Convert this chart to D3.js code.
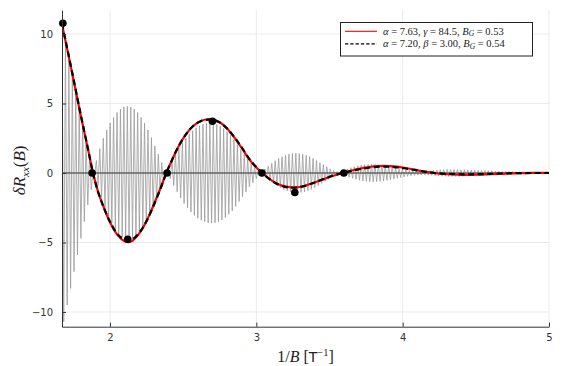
<!DOCTYPE html>
<html>
<head>
<meta charset="utf-8">
<script src="https://cdn.jsdelivr.net/npm/d3@7"></script>
<style>
  html, body { margin: 0; padding: 0; background: #fff; }
  svg { display: block; }
  .tick text { font-family: "DejaVu Sans", sans-serif; font-size: 10px; fill: #333; }
</style>
</head>
<body>
<svg id="chart" width="562" height="366"></svg>
<script>
// Axis ticks
const xTicks = [2, 3, 4, 5];
const yTicks = [-10, -5, 0, 5, 10];
const xDomain = [1.672, 5];
const yDomain = [-11.06, 11.73];

// Fit with alpha = 7.63, gamma = 84.5, B_G = 0.53 (red, solid)
const fitGammaX = [1.672, 1.70, 1.75, 1.80, 1.85, 1.884, 1.92, 1.96, 2.00, 2.05, 2.10, 2.125, 2.15, 2.20, 2.25, 2.30, 2.35, 2.385,
  2.42, 2.47, 2.52, 2.57, 2.62, 2.67, 2.70, 2.75, 2.80, 2.85, 2.90, 2.95, 3.00, 3.04, 3.08, 3.13, 3.18, 3.23, 3.27, 3.32, 3.38,
  3.45, 3.52, 3.59, 3.66, 3.73, 3.80, 3.87, 3.94, 4.01, 4.08, 4.15, 4.22, 4.30, 4.40, 4.50, 4.60, 4.70, 4.80, 4.90, 5.00];
const fitGammaY = [10.7, 9.3, 6.75, 4.15, 1.7, 0, -1.4, -2.55, -3.55, -4.45, -4.92, -4.98, -4.9, -4.35, -3.45, -2.25, -0.95, 0,
  0.85, 1.95, 2.8, 3.4, 3.75, 3.87, 3.86, 3.65, 3.2, 2.55, 1.8, 1.0, 0.4, 0, -0.35, -0.7, -0.92, -1.02, -1.03, -0.95, -0.75,
  -0.48, -0.22, 0.0, 0.2, 0.37, 0.48, 0.52, 0.48, 0.38, 0.24, 0.1, -0.02, -0.09, -0.13, -0.12, -0.08, -0.04, -0.01, 0.01, 0.01];

// Fit with alpha = 7.20, beta = 3.00, B_G = 0.54 (black, dashed)
const fitBetaY = [10.75, 9.35, 6.8, 4.2, 1.72, 0, -1.4, -2.55, -3.5, -4.38, -4.82, -4.87, -4.8, -4.3, -3.45, -2.3, -1.0, 0,
  0.85, 1.95, 2.8, 3.4, 3.73, 3.84, 3.83, 3.63, 3.2, 2.58, 1.85, 1.05, 0.42, 0.02, -0.36, -0.72, -0.95, -1.05, -1.05, -0.96, -0.75,
  -0.47, -0.2, 0.0, 0.17, 0.32, 0.42, 0.46, 0.43, 0.34, 0.22, 0.1, 0.0, -0.06, -0.09, -0.09, -0.06, -0.03, -0.01, 0.0, 0.0];

// Extrema / nodes of the measured envelope
const nodeX = [1.678, 1.878, 2.121, 2.39, 2.700, 3.038, 3.263, 3.598];
const nodeY = [10.78, 0, -4.77, 0, 3.72, 0, -1.40, 0];

// Raw oscillation: one amplitude per cycle, starting at traceStart, cycle length traceStep
const traceStart = 1.672;
const traceStep = 0.0235;
const tracePeaks = [
  10.7, 9.5, 8.3, 7.1, 5.9, 4.7, 3.5, 2.3, 1.2, 0.1,
  0.9, 1.75, 2.5, 3.1, 3.6, 4.0, 4.35, 4.6, 4.75, 4.8,
  4.75, 4.6, 4.35, 4.0, 3.6, 3.1, 2.55, 1.95, 1.35, 0.75,
  0.15, 0.4, 0.9, 1.35, 1.8, 2.2, 2.5, 2.8, 3.05, 3.25,
  3.4, 3.5, 3.58, 3.6, 3.58, 3.5, 3.38, 3.2, 2.98, 2.72,
  2.4, 2.05, 1.7, 1.35, 1.0, 0.7, 0.4, 0.15, 0.1, 0.3,
  0.5, 0.7, 0.88, 1.05, 1.18, 1.28, 1.36, 1.4, 1.42, 1.4,
  1.35, 1.28, 1.18, 1.05, 0.9, 0.75, 0.6, 0.45, 0.3, 0.18,
  0.1, 0.12, 0.2, 0.3, 0.38, 0.45, 0.52, 0.57, 0.6, 0.62,
  0.63, 0.62, 0.6, 0.57, 0.53, 0.48, 0.43, 0.38, 0.33, 0.28,
  0.24, 0.2, 0.17, 0.15, 0.14, 0.14, 0.15, 0.17, 0.19, 0.21,
  0.23, 0.24, 0.25, 0.25, 0.25, 0.25, 0.24, 0.23, 0.22, 0.21,
  0.2, 0.19, 0.18, 0.17, 0.16, 0.15, 0.14, 0.13, 0.12, 0.11,
  0.1, 0.1, 0.09, 0.09, 0.08, 0.08, 0.07, 0.07, 0.06, 0.06,
  0.05, 0.05
];

const plot = { left: 62, right: 549, top: 10, bottom: 326.7 };

const svg = d3.select("#chart");
const x = d3.scaleLinear().domain(xDomain).range([plot.left, plot.right]);
const y = d3.scaleLinear().domain(yDomain).range([plot.bottom, plot.top]);

svg.append("defs").append("clipPath").attr("id", "plot-clip")
  .append("rect")
  .attr("x", plot.left).attr("y", plot.top)
  .attr("width", plot.right - plot.left).attr("height", plot.bottom - plot.top);

// Grid
const grid = svg.append("g").attr("stroke", "#ebebeb").attr("stroke-width", 1);
grid.selectAll("line.gx").data(xTicks).join("line")
  .attr("x1", d => x(d)).attr("x2", d => x(d))
  .attr("y1", plot.top).attr("y2", plot.bottom);
grid.selectAll("line.gy").data(yTicks).join("line")
  .attr("x1", plot.left).attr("x2", plot.right)
  .attr("y1", d => y(d)).attr("y2", d => y(d));

const body = svg.append("g").attr("clip-path", "url(#plot-clip)");

// Raw oscillating trace
const tracePts = [];
tracePeaks.forEach((a, i) => {
  tracePts.push([traceStart + i * traceStep, a]);
  tracePts.push([traceStart + (i + 0.5) * traceStep, -a]);
});
body.append("path")
  .datum(tracePts)
  .attr("fill", "none")
  .attr("stroke", "#9a9a9a")
  .attr("stroke-width", 0.8)
  .attr("d", d3.line().x(d => x(d[0])).y(d => y(d[1])));

// Zero line
body.append("line")
  .attr("x1", plot.left).attr("x2", plot.right)
  .attr("y1", y(0)).attr("y2", y(0))
  .attr("stroke", "#333").attr("stroke-width", 1.2);

const curve = d3.line().curve(d3.curveCatmullRom.alpha(0.5))
  .x(d => x(d[0])).y(d => y(d[1]));

body.append("path")
  .datum(fitGammaX.map((v, i) => [v, fitGammaY[i]]))
  .attr("fill", "none").attr("stroke", "#ff0000").attr("stroke-width", 2.2)
  .attr("d", curve);

body.append("path")
  .datum(fitGammaX.map((v, i) => [v, fitBetaY[i]]))
  .attr("fill", "none").attr("stroke", "#000").attr("stroke-width", 2.2)
  .attr("stroke-dasharray", "6,3.5")
  .attr("d", curve);

// Nodes
svg.append("g").selectAll("circle")
  .data(nodeX.map((v, i) => [v, nodeY[i]]))
  .join("circle")
  .attr("cx", d => x(d[0])).attr("cy", d => y(d[1]))
  .attr("r", 3.8).attr("fill", "#000");

// Axes
const xAxis = d3.axisBottom(x).tickValues(xTicks).tickFormat(d3.format("d"))
  .tickSizeInner(-4).tickSizeOuter(0).tickPadding(7);
const yAxis = d3.axisLeft(y).tickValues(yTicks)
  .tickFormat(d => (d < 0 ? "\u2212" + Math.abs(d) : String(d)))
  .tickSizeInner(-4).tickSizeOuter(0).tickPadding(9);

const gx = svg.append("g").attr("transform", `translate(0,${plot.bottom})`).call(xAxis);
const gy = svg.append("g").attr("transform", `translate(${plot.left},0)`).call(yAxis);
[gx, gy].forEach(g => {
  g.select(".domain").attr("stroke", "#333").attr("stroke-width", 1);
  g.selectAll(".tick line").attr("stroke", "#333").attr("stroke-width", 1);
});

// Axis titles
const serif = "'Liberation Serif', 'DejaVu Serif', serif";
const xl = svg.append("text")
  .attr("x", (plot.left + plot.right) / 2).attr("y", 361.5)
  .attr("text-anchor", "middle").attr("font-family", serif)
  .attr("font-size", 16).attr("fill", "#222");
xl.append("tspan").text("1/");
xl.append("tspan").attr("font-style", "italic").text("B");
xl.append("tspan").text(" [");
xl.append("tspan").attr("font-family", "'DejaVu Sans', sans-serif").attr("font-size", 14).text("T");
xl.append("tspan").attr("font-size", 10.5).attr("dy", -6).text("\u22121");
xl.append("tspan").attr("dy", 6).text("]");

const yl = svg.append("text")
  .attr("transform", `translate(25,${(plot.top + plot.bottom) / 2 + 2}) rotate(-90)`)
  .attr("text-anchor", "middle").attr("font-family", serif)
  .attr("font-size", 17).attr("fill", "#222").attr("font-style", "italic");
yl.append("tspan").text("\u03b4R");
yl.append("tspan").attr("font-size", 11).attr("dy", 3.5).text("xx");
yl.append("tspan").attr("dy", -3.5).attr("font-style", "normal").text("(");
yl.append("tspan").text("B");
yl.append("tspan").attr("font-style", "normal").text(")");

// Legend
const legend = svg.append("g");
legend.append("rect")
  .attr("x", 340.5).attr("y", 22.5).attr("width", 192).attr("height", 33.5)
  .attr("fill", "#fff").attr("stroke", "#222").attr("stroke-width", 1);
const entries = [
  { color: "#ff0000", dash: null, parts: [["\u03b1", 1], [" = 7.63, ", 0], ["\u03b3", 1], [" = 84.5, ", 0], ["B", 1], ["G", 2], [" = 0.53", 0]] },
  { color: "#000", dash: "3.3,2", parts: [["\u03b1", 1], [" = 7.20, ", 0], ["\u03b2", 1], [" = 3.00, ", 0], ["B", 1], ["G", 2], [" = 0.54", 0]] }
];
entries.forEach((e, i) => {
  const cy = 31.3 + i * 12.6;
  legend.append("line")
    .attr("x1", 345).attr("x2", 377).attr("y1", cy).attr("y2", cy)
    .attr("stroke", e.color).attr("stroke-width", 1.1)
    .attr("stroke-dasharray", e.dash);
  const t = legend.append("text")
    .attr("x", 383).attr("y", cy + 3.5)
    .attr("font-family", serif).attr("font-size", 10.5).attr("fill", "#222");
  e.parts.forEach(([s, kind]) => {
    const sp = t.append("tspan").text(s);
    if (kind === 1) sp.attr("font-style", "italic");
    if (kind === 2) sp.attr("font-style", "italic").attr("font-size", 7.5).attr("dy", 1.5);
    if (kind === 0 && s.startsWith(" = 0")) sp.attr("dy", -1.5);
  });
});
</script>
</body>
</html>
